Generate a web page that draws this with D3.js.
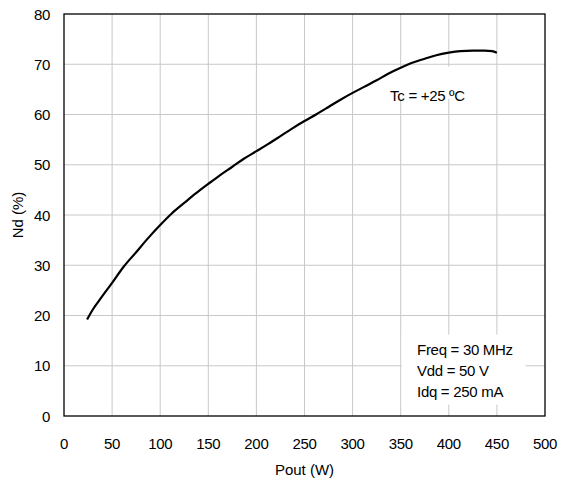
<!DOCTYPE html>
<html>
<head>
<meta charset="utf-8">
<script src="https://cdn.jsdelivr.net/npm/d3@7"></script>
<style>
  body { margin: 0; background: #fff; }
  text { font-family: "Liberation Sans", Arial, sans-serif; fill: #000; font-size: 15px; }
</style>
</head>
<body>
<div id="chart"></div>
<script>
const width = 561;
const height = 483;
const margin = { top: 14, right: 16, bottom: 67, left: 64 };

// efficiency curve
const poutW = [24, 30, 37, 50, 62, 75, 87, 100, 112, 125, 137, 150, 162, 175, 187, 200, 212, 225, 237, 250, 262, 275, 287, 300, 312, 325, 337, 350, 362, 375, 387, 400, 412, 425, 437, 445, 450];
const effPct = [19.2, 21.2, 23.1, 26.5, 29.7, 32.6, 35.3, 38.0, 40.3, 42.4, 44.3, 46.2, 47.9, 49.6, 51.2, 52.7, 54.1, 55.7, 57.2, 58.7, 60.0, 61.5, 62.9, 64.3, 65.5, 66.8, 68.1, 69.3, 70.3, 71.1, 71.8, 72.3, 72.6, 72.7, 72.7, 72.6, 72.3];

const xTicks = [0, 50, 100, 150, 200, 250, 300, 350, 400, 450, 500];
const yTicks = [0, 10, 20, 30, 40, 50, 60, 70, 80];

const condLabel = ["Tc = +25 \u00baC"];
const biasLabels = ["Freq = 30 MHz", "Vdd = 50 V", "Idq = 250 mA"];

const svg = d3.select("#chart").append("svg")
    .attr("width", width)
    .attr("height", height);

const plotW = width - margin.left - margin.right;
const plotH = height - margin.top - margin.bottom;

const x = d3.scaleLinear().domain([0, 500]).range([margin.left, margin.left + plotW]);
const y = d3.scaleLinear().domain([0, 80]).range([margin.top + plotH, margin.top]);

// grid
svg.append("g")
    .selectAll("line")
    .data(xTicks.slice(1, -1))
    .enter().append("line")
    .attr("x1", d => x(d)).attr("x2", d => x(d))
    .attr("y1", y(0)).attr("y2", y(80))
    .style("stroke", "#c8c8c8")
    .style("stroke-width", 1);

svg.append("g")
    .selectAll("line")
    .data(yTicks.slice(1, -1))
    .enter().append("line")
    .attr("x1", x(0)).attr("x2", x(500))
    .attr("y1", d => y(d)).attr("y2", d => y(d))
    .style("stroke", "#c8c8c8")
    .style("stroke-width", 1);

// white boxes behind the notes
svg.append("rect")
    .attr("x", x(334)).attr("y", y(69.5))
    .attr("width", 96).attr("height", 32)
    .style("fill", "#fff");

svg.append("rect")
    .attr("x", x(351)).attr("y", y(16.2))
    .attr("width", 124).attr("height", 70)
    .style("fill", "#fff");

// frame
svg.append("rect")
    .attr("x", x(0)).attr("y", y(80))
    .attr("width", plotW).attr("height", plotH)
    .style("fill", "none")
    .style("stroke", "#000")
    .style("stroke-width", 1.3);

// curve
const line = d3.line()
    .x((d, i) => x(poutW[i]))
    .y(d => y(d))
    .curve(d3.curveMonotoneX);

svg.append("path")
    .datum(effPct)
    .attr("d", line)
    .style("fill", "none")
    .style("stroke", "#000")
    .style("stroke-width", 2.2);

// axes labels
svg.append("g")
    .selectAll("text")
    .data(xTicks)
    .enter().append("text")
    .attr("x", d => x(d))
    .attr("y", y(0) + 33)
    .attr("text-anchor", "middle")
    .style("letter-spacing", "-0.3px")
    .text(d => d);

svg.append("g")
    .selectAll("text")
    .data(yTicks)
    .enter().append("text")
    .attr("x", x(0) - 14)
    .attr("y", d => y(d) + 5.5)
    .attr("text-anchor", "end")
    .style("letter-spacing", "-0.3px")
    .text(d => d);

svg.append("text")
    .attr("x", x(250))
    .attr("y", 475)
    .attr("text-anchor", "middle")
    .text("Pout (W)");

svg.append("text")
    .attr("transform", `translate(23, ${y(40)}) rotate(-90)`)
    .attr("text-anchor", "middle")
    .text("Nd (%)");

// notes
svg.append("text")
    .attr("x", x(339))
    .attr("y", y(62.6))
    .style("letter-spacing", "-0.3px")
    .text(condLabel[0]);

svg.append("g")
    .selectAll("text")
    .data(biasLabels)
    .enter().append("text")
    .attr("x", x(367))
    .attr("y", (d, i) => y(12.1) + i * 20.8)
    .style("letter-spacing", "-0.3px")
    .text(d => d);
</script>
</body>
</html>
